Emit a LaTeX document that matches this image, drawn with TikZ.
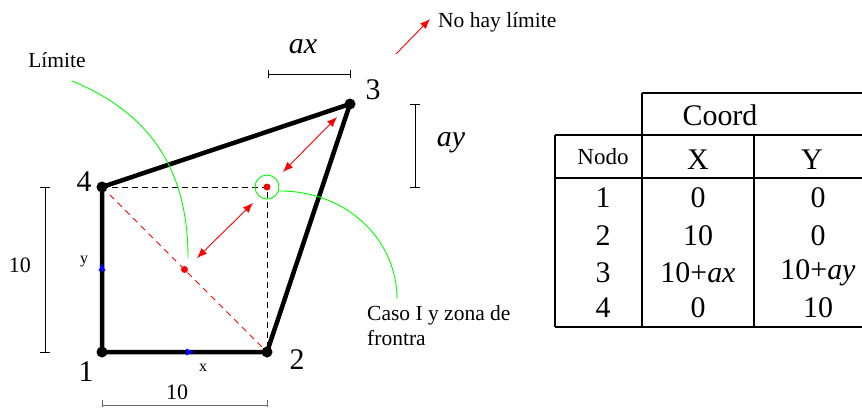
\documentclass[tikz,border=0pt]{standalone}
\usepackage{fontspec}
\setmainfont{Liberation Serif}
\usetikzlibrary{arrows.meta, positioning, calc}

% large labels: scaled from a safe text size
\newcommand{\bigsc}[1]{\scalebox{1.36}{\fontsize{22}{24}\selectfont #1}}

\begin{document}
\begin{tikzpicture}[
  x=1pt, y=-1pt,
  bigtxt/.style={inner sep=0pt},
  midtxt/.style={font=\fontsize{22}{24}\selectfont, inner sep=0pt},
  smalltxt/.style={font=\fontsize{21.5}{25}\selectfont, inner sep=0pt},
  tinytxt/.style={font=\fontsize{16}{18}\selectfont, inner sep=0pt},
  member/.style={line width=4.5pt, line cap=round, line join=round},
  joint/.style={circle, fill=black, inner sep=0pt, minimum size=11pt},
  reddot/.style={circle, fill=red, inner sep=0pt, minimum size=7pt},
  guide/.style={green, line width=0.9pt},
  dimbar/.style={line width=0.9pt},
  tabline/.style={line width=1.1pt},
  reach/.style={red, line width=0.9pt, {Latex[length=10pt,width=8pt]}-{Latex[length=10pt,width=8pt]}},
]

  \useasboundingbox (0,0) rectangle (862,407);

  % ── Joints ──
  \coordinate (n1) at (102,352);
  \coordinate (n2) at (267,352);
  \coordinate (n3) at (350,104);
  \coordinate (n4) at (102,187);
  \coordinate (corner) at (267,187);
  \coordinate (mid) at ($(n4)!0.5!(n2)$);

  % ── Reference lines ──
  \draw[dash pattern=on 6pt off 4pt, line width=0.9pt] (n4) -- (corner) -- (n2);
  \draw[red, dash pattern=on 6pt off 5pt, line width=1pt] (n4) -- (n2);

  % ── Element ──
  \draw[member] (n1) -- (n2) -- (n3) -- (n4) -- cycle;
  \foreach \i in {1,2,3,4} {
    \node[joint] (j\i) at (n\i) {};
  }
  \node[reddot] (dmid) at (mid) {};
  \node[reddot] (dcorner) at (corner) {};
  \draw[guide] (corner) circle (12pt);

  % ── Local axes ──
  \fill[blue] (186,348.5) -- (194,352) -- (186,355.5) -- cycle;
  \fill[blue] (98.5,271) -- (102,263) -- (105.5,271) -- cycle;
  \node[tinytxt] (lx) at (203,368) {x};
  \node[tinytxt] (ly) at (84,262) {y};

  % ── Node numbers ──
  \node[bigtxt] (l1) at (86,372) {\bigsc{1}};
  \node[bigtxt] (l2) at (297,360) {\bigsc{2}};
  \node[bigtxt] (l3) at (373,90) {\bigsc{3}};
  \node[bigtxt] (l4) at (84,182) {\bigsc{4}};

  % ── Reach arrows ──
  \coordinate (ra) at (197,258);
  \coordinate (rb) at (253,203);
  \coordinate (rc) at (283,172);
  \coordinate (rd) at (337,117);
  \draw[reach] (ra) -- (rb);
  \draw[reach] (rc) -- (rd);

  % ── No limit ──
  \node[smalltxt, anchor=west] (nolim) at (438,22) {No hay límite};
  \coordinate (nl) at (396,54);
  \coordinate (nt) at (430,19);
  \draw[red, line width=0.9pt, -{Latex[length=10pt,width=8pt]}] (nl) -- (nt);

  % ── Limit curves ──
  \node[smalltxt] (lim) at (57,60) {Límite};
  \draw[guide] (72,81) .. controls (155,115) and (188,175) .. (188,258);
  \node[smalltxt, anchor=north west, align=left] (caso) at (367,305) {Caso I y zona de\\frontra};
  \draw[guide] (280,191) .. controls (346,191) and (397,239) .. (397,299);

  % ── Dimensions ──
  \draw[dimbar] (268,74) -- (350,74);
  \draw[dimbar] (268,70) -- (268,78);
  \draw[dimbar] (350,70) -- (350,78);
  \node[bigtxt] (dax) at (303,47) {\bigsc{\textit{ax}}};

  \draw[dimbar] (415,104) -- (415,187);
  \draw[dimbar] (410,104) -- (420,104);
  \draw[dimbar] (410,187) -- (420,187);
  \node[bigtxt] (day) at (451,143) {\bigsc{\textit{ay}}};

  \draw[dimbar] (45,187) -- (45,352);
  \draw[dimbar] (40,187) -- (50,187);
  \draw[dimbar] (40,352) -- (50,352);
  \node[midtxt] (dy) at (20,265) {10};

  \draw[dimbar, gray!80!black] (102,405) -- (267,405);
  \draw[dimbar, gray!80!black] (102,400) -- (102,407);
  \draw[dimbar, gray!80!black] (267,400) -- (267,407);
  \node[midtxt] (dx) at (177,392) {10};

  % ── Table ──
  \draw[tabline] (642,93) -- (862,93);
  \draw[tabline] (555,135) -- (862,135);
  \draw[tabline] (555,178) -- (862,178);
  \draw[tabline] (555,327) -- (862,327);
  \draw[tabline] (555,135) -- (555,327);
  \draw[tabline] (642,93) -- (642,327);
  \draw[tabline] (754,135) -- (754,327);

  \node[bigtxt] (hcoord) at (720,115) {\bigsc{Coord}};
  \node[smalltxt, font=\fontsize{23}{25}\selectfont] (hnodo) at (603,157) {Nodo};
  \node[bigtxt] (hx) at (698,160) {\bigsc{X}};
  \node[bigtxt] (hy) at (812,160) {\bigsc{Y}};

  \foreach \r/\yy/\vx/\vy in {1/198/0/0, 2/236/10/0, 3/273/10+\textit{ax}/10+\textit{ay}, 4/308/0/10} {
    \node[bigtxt] (tn\r) at (603,\yy) {\bigsc{\r}};
    \node[bigtxt] (tx\r) at (698,\yy) {\bigsc{\vx}};
    \node[bigtxt] (ty\r) at (818,\yy) {\bigsc{\vy}};
  }

\end{tikzpicture}
\end{document}
